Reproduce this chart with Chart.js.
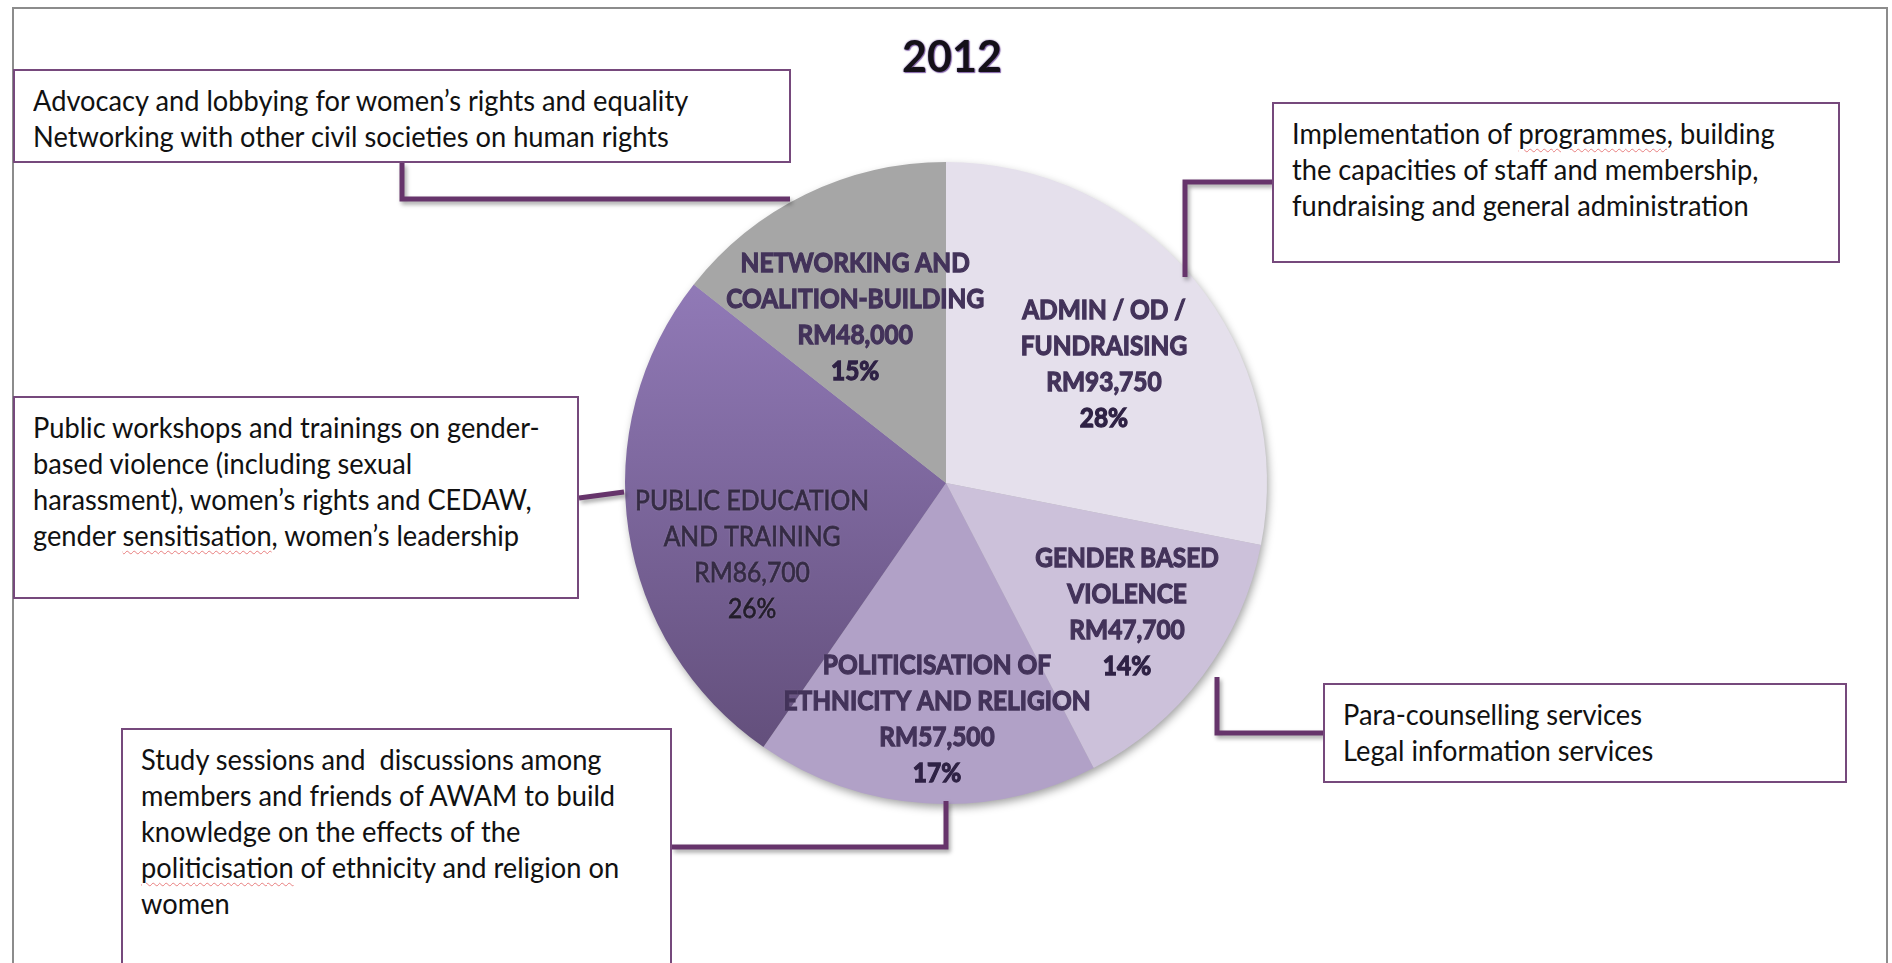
<!DOCTYPE html>
<html>
<head>
<title>2012</title>
<script src="https://cdn.jsdelivr.net/npm/chart.js@4.4.1/dist/chart.umd.min.js"></script>
<style>
  body { margin: 0; width: 1892px; height: 963px; overflow: hidden; position: relative; background: #fff; font-family: Lato, "Open Sans", sans-serif; }
  #frame { position: absolute; left: 12px; top: 7px; width: 1876px; height: 1000px; border: 2px solid #8c8c8c; box-sizing: border-box; }
  #pieChart { position: absolute; left: 0; top: 0; }
  #title { position: absolute; left: 852px; width: 200px; top: 30px; text-align: center; font: bold 43px Lato, sans-serif; color: #141018;
           text-shadow: 0 0 2px #6d4f96, 1px 1px 1px #8a6cb0; }
  .note { position: absolute; background: #fff; border: 2px solid #76497c; box-sizing: border-box; }
  .note .txt { position: absolute; left: 18px; top: 11px; font-size: 28px; line-height: 36px; color: #111; white-space: pre; transform-origin: 0 0; }
  .sp { text-decoration: underline wavy rgba(225,90,90,0.75); text-decoration-thickness: 1px; text-underline-offset: 4px; }
</style>
</head>
<body>
<div id="frame"></div>
<canvas id="pieChart" width="1892" height="963"></canvas>
<div id="title">2012</div>
<div id="notes"></div>

<script>
  // slices, clockwise from 12 o'clock
  var categories = [
    ["ADMIN / OD /", "FUNDRAISING"],
    ["GENDER BASED", "VIOLENCE"],
    ["POLITICISATION OF", "ETHNICITY AND RELIGION"],
    ["PUBLIC EDUCATION", "AND TRAINING"],
    ["NETWORKING AND", "COALITION-BUILDING"]
  ];
  var amounts = [93750, 47700, 57500, 86700, 48000];
  var percents = ["28%", "14%", "17%", "26%", "15%"];

  var noteLines = [
    ["Advocacy and lobbying for women’s rights and equality", "Networking with other civil societies on human rights"],
    ["Implementation of programmes, building", "the capacities of staff and membership,", "fundraising and general administration"],
    ["Public workshops and trainings on gender-", "based violence (including sexual", "harassment), women’s rights and CEDAW,", "gender sensitisation, women’s leadership"],
    ["Para-counselling services", "Legal information services"],
    ["Study sessions and  discussions among", "members and friends of AWAM to build", "knowledge on the effects of the", "politicisation of ethnicity and religion on", "women"]
  ];
  var misspelt = ["programmes", "sensitisation", "politicisation"];

  // layout only
  var sliceColours = ["#E5E0EC", "#CCC1DA", "#B1A1C7", "gradient", "#A6A6A6"];
  var labelSpot = [[0.492, -0.374], [0.564, 0.399], [-0.028, 0.732], [-0.604, 0.221], [-0.283, -0.520]];
  var boldLabel = [true, true, true, false, true];
  var noteBoxes = [[13, 69, 778, 94], [1272, 102, 568, 161], [13, 396, 566, 203], [1323, 683, 524, 100], [121, 728, 551, 260]];
  var connectors = [
    [[402, 163], [402, 199], [790, 199]],
    [[1272, 182], [1185, 182], [1185, 277]],
    [[579, 498], [624, 492]],
    [[1217, 677], [1217, 733], [1323, 733]],
    [[946, 801], [946, 847], [672, 847]]
  ];

  // text boxes
  var measure = document.createElement('canvas').getContext('2d');
  measure.font = '28px Lato';
  var noteScale = 657 / measure.measureText(noteLines[0][0]).width;
  var holder = document.getElementById('notes');
  noteBoxes.forEach(function(b, i) {
    var box = document.createElement('div');
    box.className = 'note';
    box.style.left = b[0] + 'px'; box.style.top = b[1] + 'px';
    box.style.width = b[2] + 'px'; box.style.height = b[3] + 'px';
    var txt = document.createElement('div');
    txt.className = 'txt';
    var html = noteLines[i].join('\n');
    misspelt.forEach(function(w) { html = html.replace(w, '<span class="sp">' + w + '</span>'); });
    txt.innerHTML = html;
    txt.style.transform = 'scaleX(' + noteScale + ')';
    box.appendChild(txt);
    holder.appendChild(box);
  });

  function sliceFill(context) {
    var col = sliceColours[context.dataIndex];
    if (col != 'gradient') return col;
    var area = context.chart.chartArea;
    if (!area) return '#7f67a3';
    var g = context.chart.ctx.createLinearGradient(0, area.top, 0, area.bottom);
    g.addColorStop(0.2, '#9079B6');
    g.addColorStop(0.9, '#64507D');
    return g;
  }

  var pieShadow = {
    id: 'pieShadow',
    beforeDatasetsDraw: function(chart) {
      var arc = chart.getDatasetMeta(0).data[0];
      var c = chart.ctx;
      c.save();
      c.shadowColor = 'rgba(0,0,0,0.4)';
      c.shadowBlur = 10; c.shadowOffsetX = 2; c.shadowOffsetY = 4;
      c.fillStyle = '#bbb';
      c.beginPath(); c.arc(arc.x, arc.y, arc.outerRadius - 1, 0, Math.PI * 2); c.fill();
      c.restore();
    }
  };

  var sliceText = {
    id: 'sliceText',
    afterDatasetsDraw: function(chart) {
      var c = chart.ctx;
      c.save();
      c.font = 'bold 27px Lato';
      var boldScale = 258 / c.measureText('COALITION-BUILDING').width;
      c.font = '27px Lato';
      var regScale = 234 / c.measureText('PUBLIC EDUCATION').width;
      chart.getDatasetMeta(0).data.forEach(function(arc, i) {
        var lines = categories[i].concat(['RM' + amounts[i].toLocaleString('en-US'), percents[i]]);
        var cx = arc.x + labelSpot[i][0] * arc.outerRadius;
        var cy = arc.y + labelSpot[i][1] * arc.outerRadius;
        var bold = boldLabel[i];
        c.font = (bold ? 'bold ' : '') + '27px Lato';
        c.textAlign = 'center';
        c.textBaseline = 'alphabetic';
        lines.forEach(function(t, k) {
          c.save();
          c.translate(cx, cy + (k - 1.5) * 36 + 10);
          c.scale(bold ? boldScale : regScale, 1);
          var col = bold ? (k == 3 ? '#2f2245' : '#43335A') : (k == 3 ? '#231d2b' : '#352b44');
          c.fillStyle = col;
          c.strokeStyle = col;
          c.lineWidth = bold ? 1.3 : 0.8;
          c.shadowColor = 'rgba(255,255,255,0.35)';
          c.shadowBlur = 2;
          c.fillText(t, 0, 0);
          c.shadowColor = 'transparent';
          c.strokeText(t, 0, 0);
          c.restore();
        });
      });
      c.restore();
    }
  };

  var leaderLines = {
    id: 'leaderLines',
    afterDraw: function(chart) {
      var c = chart.ctx;
      c.save();
      c.strokeStyle = '#66346B';
      c.lineWidth = 5;
      c.lineJoin = 'miter';
      c.shadowColor = 'rgba(0,0,0,0.35)';
      c.shadowBlur = 4; c.shadowOffsetX = 2; c.shadowOffsetY = 3;
      connectors.forEach(function(pts) {
        c.beginPath();
        c.moveTo(pts[0][0], pts[0][1]);
        for (var k = 1; k < pts.length; k++) c.lineTo(pts[k][0], pts[k][1]);
        c.stroke();
      });
      c.restore();
    }
  };

  var ctx = document.getElementById('pieChart').getContext('2d');
  var pie = new Chart(ctx, {
    type: 'pie',
    data: {
      labels: categories,
      datasets: [{
        data: amounts,
        backgroundColor: sliceFill,
        borderWidth: 0
      }]
    },
    options: {
      responsive: false,
      animation: false,
      layout: { padding: { left: 625, right: 625, top: 162, bottom: 159 } },
      plugins: { legend: { display: false }, tooltip: { enabled: false } }
    },
    plugins: [pieShadow, sliceText, leaderLines]
  });
</script>
</body>
</html>
